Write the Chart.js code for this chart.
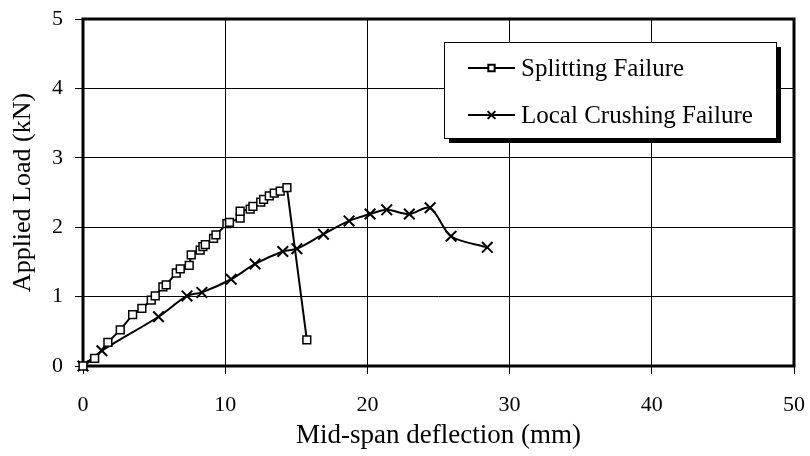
<!DOCTYPE html>
<html><head><meta charset="utf-8">
<script src="https://cdn.jsdelivr.net/npm/chart.js@4/dist/chart.umd.min.js"></script>
<style>html,body{margin:0;padding:0;background:#fff}#wrap{width:810px;height:456px}</style>
</head><body><div id="wrap"><canvas id="c" width="810" height="456"></canvas></div>
<script>
const seriesNames = ["Splitting Failure", "Local Crushing Failure"];
const splitX = [0, 0.82, 1.75, 2.62, 3.49, 4.14, 4.8, 5.08, 5.62, 5.85, 6.56, 6.84, 7.47, 7.61, 8.24, 8.43, 8.6, 9.18, 9.35, 10.12, 10.3, 11.05, 11.05, 11.76, 11.95, 12.5, 12.7, 13.1, 13.45, 13.87, 14.34, 15.74];
const splitY = [0, 0.11, 0.34, 0.52, 0.74, 0.83, 0.95, 1.01, 1.14, 1.17, 1.34, 1.40, 1.45, 1.60, 1.67, 1.72, 1.75, 1.84, 1.89, 2.05, 2.07, 2.13, 2.23, 2.26, 2.30, 2.36, 2.40, 2.45, 2.49, 2.52, 2.57, 0.375];
const crushX = [0, 1.33, 5.31, 7.31, 8.36, 10.42, 12.1, 14.05, 15.04, 16.91, 18.71, 20.19, 21.36, 22.95, 24.41, 25.88, 28.43];
const crushY = [0, 0.22, 0.71, 1.01, 1.06, 1.25, 1.47, 1.65, 1.69, 1.90, 2.09, 2.19, 2.25, 2.19, 2.28, 1.87, 1.71];
const xTicks = [0, 10, 20, 30, 40, 50];
const yTicks = [0, 1, 2, 3, 4, 5];

const FONT = "'Liberation Serif', 'Times New Roman', serif";
const toPts = (xs, ys) => xs.map((x, i) => ({x: x, y: ys[i]}));

const framePlugin = {
  id: 'frame',
  beforeDatasetsDraw(chart) {
    const a = chart.chartArea, ctx = chart.ctx;
    ctx.save();
    ctx.strokeStyle = '#000'; ctx.lineWidth = 3;
    ctx.strokeRect(a.left, a.top, a.right - a.left, a.bottom - a.top);
    ctx.restore();
  }
};

const legendPlugin = {
  id: 'boxLegend',
  afterDraw(chart) {
    const ctx = chart.ctx;
    const bx = 444, by = 42, bw = 332, bh = 96;
    ctx.save();
    ctx.fillStyle = '#000';
    ctx.fillRect(bx + 5, by + 5, bw, bh);
    ctx.fillStyle = '#fff';
    ctx.fillRect(bx, by, bw, bh);
    ctx.strokeStyle = '#000'; ctx.lineWidth = 1;
    ctx.strokeRect(bx + 0.5, by + 0.5, bw, bh);
    ctx.font = "25px " + FONT;
    ctx.textBaseline = 'middle';
    const rows = [68, 115];
    chart.data.datasets.forEach((ds, i) => {
      const y = rows[i];
      ctx.strokeStyle = '#000'; ctx.lineWidth = 2;
      ctx.beginPath(); ctx.moveTo(468, y); ctx.lineTo(515, y); ctx.stroke();
      Chart.helpers.drawPoint(ctx, {pointStyle: ds.pointStyle, radius: i === 0 ? 4.5 : 5.5, borderWidth: 1.5}, 491.5, y);
      ctx.fillStyle = '#000';
      ctx.fillText(ds.label, 521, y + 1);
    });
    ctx.restore();
  }
};

new Chart(document.getElementById('c'), {
  type: 'line',
  data: {
    datasets: [
      {label: seriesNames[0], data: toPts(splitX, splitY), borderColor: '#000', borderWidth: 2,
       pointStyle: 'rect', pointRadius: 5.5, pointBorderWidth: 1.5, pointBackgroundColor: '#fff', pointBorderColor: '#000', tension: 0},
      {label: seriesNames[1], data: toPts(crushX, crushY), borderColor: '#000', borderWidth: 2,
       pointStyle: 'crossRot', pointRadius: 7.5, pointBorderWidth: 2, pointBackgroundColor: '#fff', pointBorderColor: '#000', tension: 0.3}
    ]
  },
  options: {
    responsive: false, animation: false, devicePixelRatio: 1,
    layout: {padding: {top: 19, right: 16, left: 0, bottom: 0}},
    clip: false,
    plugins: {legend: {display: false}, tooltip: {enabled: false}},
    scales: {
      x: {
        type: 'linear', min: 0, max: 50,
        afterBuildTicks: s => { s.ticks = xTicks.map(v => ({value: v})); },
        afterFit: s => { s.height = 90; s.paddingLeft = 0; s.paddingRight = 0; },
        ticks: {font: {family: FONT, size: 22}, color: '#000', padding: 18, maxRotation: 0},
        grid: {color: '#000', lineWidth: 1, tickLength: 8},
        border: {display: false},
        title: {display: true, text: 'Mid-span deflection (mm)', font: {family: FONT, size: 27}, color: '#000', padding: {top: 0, bottom: 4}}
      },
      y: {
        type: 'linear', min: 0, max: 5,
        afterBuildTicks: s => { s.ticks = yTicks.map(v => ({value: v})); },
        afterFit: s => { s.width = 83; s.paddingTop = 0; s.paddingBottom = 0; },
        ticks: {font: {family: FONT, size: 22}, color: '#000', padding: 12},
        grid: {color: '#000', lineWidth: 1, tickLength: 8},
        border: {display: false},
        title: {display: true, text: 'Applied Load (kN)', font: {family: FONT, size: 26}, color: '#000', padding: {top: 8, bottom: 0}}
      }
    }
  },
  plugins: [framePlugin, legendPlugin]
});
</script></body></html>
